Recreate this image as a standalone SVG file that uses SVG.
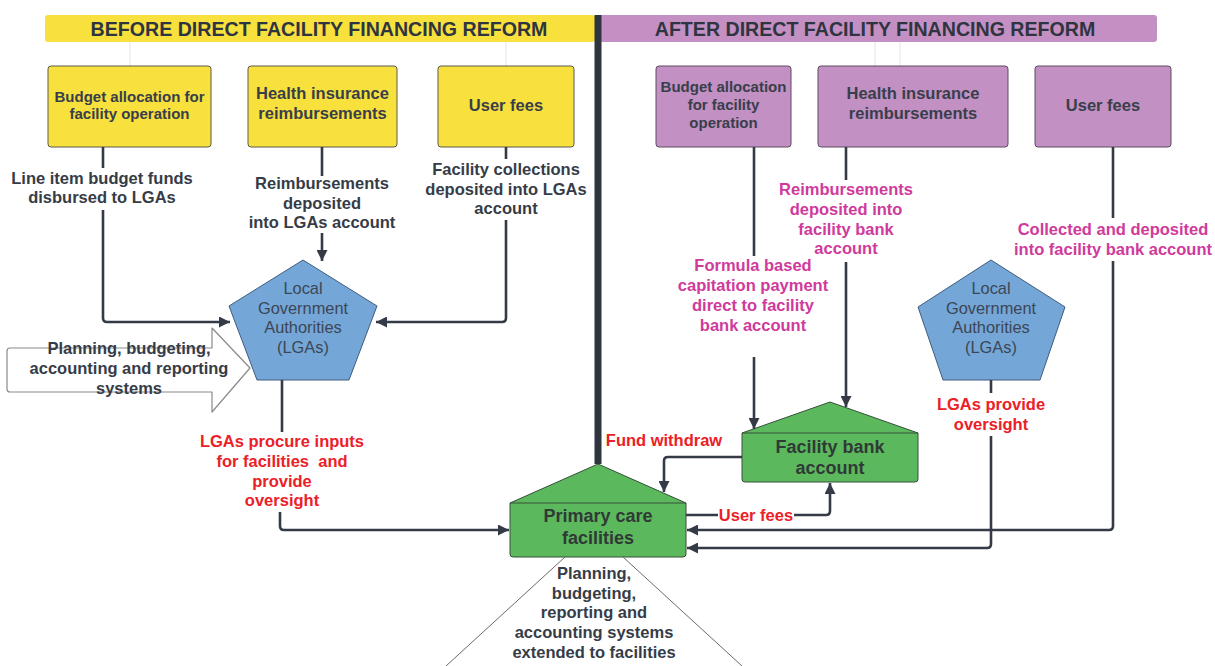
<svg xmlns="http://www.w3.org/2000/svg" width="1215" height="666" viewBox="0 0 1215 666">
  <defs>
    <marker id="arr" viewBox="0 0 10 10" refX="10" refY="5" markerWidth="11" markerHeight="11" markerUnits="userSpaceOnUse" orient="auto">
      <path d="M0,0 L10,5 L0,10 Z" fill="#343b46"/>
    </marker>
    <style>
      text { font-family: "Liberation Sans", Arial, sans-serif; text-anchor: middle; dominant-baseline: central; }
      .hdr { font-size: 19.6px; font-weight: bold; fill: #2f3540; }
      .box { font-size: 16.5px; font-weight: bold; fill: #383e4a; }
      .lbl { font-size: 16.5px; font-weight: bold; fill: #363c47; }
      .red { font-size: 16.5px; font-weight: bold; fill: #ec2027; }
      .mag { font-size: 16.5px; font-weight: bold; fill: #cf3a9c; }
      .lga { font-size: 16.4px; fill: #3d4654; }
      .fac { font-size: 18px; font-weight: bold; fill: #2f3a37; }
      .yel { fill: #f8e03d; stroke: #5c5a4a; stroke-width: 1; }
      .pur { fill: #c290c2; stroke: #5f4a63; stroke-width: 1; }
      .pent { fill: #74a6d8; stroke: #3f5c7e; stroke-width: 1; stroke-linejoin: round; }
      .house { fill: #5cb85c; stroke: #35503a; stroke-width: 1; stroke-linejoin: round; }
      .conn { fill: none; stroke: #343b46; stroke-width: 2.6; }
      .faint { fill: none; stroke: #e4e4e4; stroke-width: 1; }
    </style>
  </defs>

  <rect width="1215" height="666" fill="#ffffff"/>

  <!-- section headers -->
  <g id="header-before">
    <rect x="45" y="15" width="550" height="27" rx="3" fill="#f8e03d"/>
    <text class="hdr" x="319" y="29">BEFORE DIRECT FACILITY FINANCING REFORM</text>
  </g>
  <g id="header-after">
    <rect x="598" y="15" width="559" height="27" rx="3" fill="#c490c3"/>
    <text class="hdr" x="875" y="29">AFTER DIRECT FACILITY FINANCING REFORM</text>
  </g>

  <!-- faint guide strokes under the headers -->
  <g id="guides">
    <line class="faint" x1="130" y1="42" x2="130" y2="66"/>
    <line class="faint" x1="506" y1="42" x2="506" y2="66"/>
    <path class="faint" d="M875,42 V66 Q875,69 878,69 H897 Q900,69 900,66 V42"/>
  </g>

  <!-- divider between the two halves -->
  <g id="divider">
    <line x1="598" y1="15" x2="598" y2="464" stroke="#2f353f" stroke-width="7"/>
  </g>

  <!-- BEFORE: funding sources -->
  <g id="before-budget">
    <rect class="yel" x="48" y="66" width="163" height="81" rx="3"/>
    <text class="box" x="129.5" y="96" style="font-size:15px">Budget allocation for</text>
    <text class="box" x="129.5" y="113" style="font-size:15px">facility operation</text>
  </g>
  <g id="before-insurance">
    <rect class="yel" x="248" y="66" width="149" height="81" rx="3"/>
    <text class="box" x="322.5" y="93">Health insurance</text>
    <text class="box" x="322.5" y="113">reimbursements</text>
  </g>
  <g id="before-userfees">
    <rect class="yel" x="438" y="66" width="136" height="81" rx="3"/>
    <text class="box" x="506" y="105">User fees</text>
  </g>

  <!-- BEFORE: LGAs -->
  <g id="before-lga">
    <path class="pent" d="M303,260 L377,306 L349,380 L257,380 L229,306 Z"/>
    <text class="lga" x="303" y="288">Local</text>
    <text class="lga" x="303" y="308">Government</text>
    <text class="lga" x="303" y="327">Authorities</text>
    <text class="lga" x="303" y="347">(LGAs)</text>
  </g>

  <!-- BEFORE: systems block arrow -->
  <g id="before-systems">
    <path d="M10,348 H212 V328 L250,368 L212,412 V392 H10 Q7,392 7,389 V351 Q7,348 10,348 Z" fill="#ffffff" stroke="#8a8a8a" stroke-width="1.2" stroke-linejoin="round"/>
    <text class="lbl" x="129" y="348">Planning, budgeting,</text>
    <text class="lbl" x="129" y="368">accounting and reporting</text>
    <text class="lbl" x="129" y="388">systems</text>
  </g>

  <!-- AFTER: funding sources -->
  <g id="after-budget">
    <rect class="pur" x="656" y="66" width="135" height="81" rx="3"/>
    <text class="box" x="723.5" y="86" style="font-size:15px">Budget allocation</text>
    <text class="box" x="723.5" y="104" style="font-size:15px">for facility</text>
    <text class="box" x="723.5" y="122" style="font-size:15px">operation</text>
  </g>
  <g id="after-insurance">
    <rect class="pur" x="818" y="66" width="190" height="81" rx="3"/>
    <text class="box" x="913" y="93">Health insurance</text>
    <text class="box" x="913" y="113">reimbursements</text>
  </g>
  <g id="after-userfees">
    <rect class="pur" x="1035" y="66" width="136" height="81" rx="3"/>
    <text class="box" x="1103" y="105">User fees</text>
  </g>

  <!-- AFTER: LGAs -->
  <g id="after-lga">
    <path class="pent" d="M991,260 L1065,307 L1040,380 L943,380 L918,307 Z"/>
    <text class="lga" x="991" y="288">Local</text>
    <text class="lga" x="991" y="308">Government</text>
    <text class="lga" x="991" y="327">Authorities</text>
    <text class="lga" x="991" y="347">(LGAs)</text>
  </g>

  <!-- AFTER: facility bank account -->
  <g id="facility-bank">
    <path class="house" d="M742,433 L830,402 L918,433 V479 Q918,482 915,482 H745 Q742,482 742,479 Z"/>
    <line x1="742" y1="433" x2="918" y2="433" stroke="#35503a" stroke-width="1"/>
    <text class="fac" x="830" y="447">Facility bank</text>
    <text class="fac" x="830" y="468">account</text>
  </g>

  <!-- primary care facilities -->
  <g id="primary-care">
    <path class="house" d="M510,503 L598,464 L686,503 V554 Q686,557 683,557 H513 Q510,557 510,554 Z"/>
    <line x1="510" y1="503" x2="686" y2="503" stroke="#35503a" stroke-width="1"/>
    <text class="fac" x="598" y="516">Primary care</text>
    <text class="fac" x="598" y="538">facilities</text>
  </g>

  <!-- systems extended to facilities -->
  <g id="facility-systems">
    <line x1="565" y1="557" x2="446" y2="666" stroke="#6a6a6a" stroke-width="1"/>
    <line x1="623" y1="557" x2="742" y2="666" stroke="#6a6a6a" stroke-width="1"/>
    <text class="lbl" x="594" y="573">Planning,</text>
    <text class="lbl" x="594" y="593">budgeting,</text>
    <text class="lbl" x="594" y="612">reporting and</text>
    <text class="lbl" x="594" y="632">accounting systems</text>
    <text class="lbl" x="594" y="652">extended to facilities</text>
  </g>

  <!-- connectors -->
  <g id="connectors">
    <!-- before -->
    <path class="conn" d="M103,147 V168"/>
    <path class="conn" d="M103,210 V318 Q103,322 107,322 H230" marker-end="url(#arr)"/>
    <path class="conn" d="M322,147 V176"/>
    <path class="conn" d="M322,233 V261" marker-end="url(#arr)"/>
    <path class="conn" d="M506,147 V159"/>
    <path class="conn" d="M506,220 V318 Q506,322 502,322 H376" marker-end="url(#arr)"/>
    <path class="conn" d="M282,380 V432"/>
    <path class="conn" d="M280,512 V526 Q280,530 284,530 H509" marker-end="url(#arr)"/>
    <!-- after -->
    <path class="conn" d="M754,147 V256"/>
    <path class="conn" d="M754,357 V429" marker-end="url(#arr)"/>
    <path class="conn" d="M846,147 V180"/>
    <path class="conn" d="M846,262 V407" marker-end="url(#arr)"/>
    <path class="conn" d="M1113,147 V218"/>
    <path class="conn" d="M1113,261 V526 Q1113,530 1109,530 H687" marker-end="url(#arr)"/>
    <path class="conn" d="M991,380 V393"/>
    <path class="conn" d="M991,436 V544 Q991,548 987,548 H687" marker-end="url(#arr)"/>
    <path class="conn" d="M742,457 H668 Q664,457 664,461 V492" marker-end="url(#arr)"/>
    <path class="conn" d="M686,515 H826 Q830,515 830,511 V483" marker-end="url(#arr)"/>
  </g>

  <!-- connector labels -->
  <g id="labels">
    <text class="lbl" x="102" y="178">Line item budget funds</text>
    <text class="lbl" x="102" y="197">disbursed to LGAs</text>
    <text class="lbl" x="322" y="183">Reimbursements</text>
    <text class="lbl" x="322" y="203">deposited</text>
    <text class="lbl" x="322" y="222">into LGAs account</text>
    <text class="lbl" x="506" y="169">Facility collections</text>
    <text class="lbl" x="506" y="189">deposited into LGAs</text>
    <text class="lbl" x="506" y="208">account</text>
    <text class="red" x="282" y="441">LGAs procure inputs</text>
    <text class="red" x="282" y="461" xml:space="preserve">for facilities  and</text>
    <text class="red" x="282" y="481">provide</text>
    <text class="red" x="282" y="500">oversight</text>

    <text class="mag" x="846" y="189">Reimbursements</text>
    <text class="mag" x="846" y="209">deposited into</text>
    <text class="mag" x="846" y="229">facility bank</text>
    <text class="mag" x="846" y="248">account</text>
    <text class="mag" x="1113" y="229">Collected and deposited</text>
    <text class="mag" x="1113" y="249">into facility bank account</text>
    <text class="mag" x="753" y="265">Formula based</text>
    <text class="mag" x="753" y="285">capitation payment</text>
    <text class="mag" x="753" y="305">direct to facility</text>
    <text class="mag" x="753" y="325">bank account</text>
    <text class="red" x="991" y="404">LGAs provide</text>
    <text class="red" x="991" y="424">oversight</text>
    <text class="red" x="664" y="440">Fund withdraw</text>
    <rect x="718" y="505" width="76" height="20" fill="#ffffff"/>
    <text class="red" x="756" y="515">User fees</text>
  </g>
</svg>
